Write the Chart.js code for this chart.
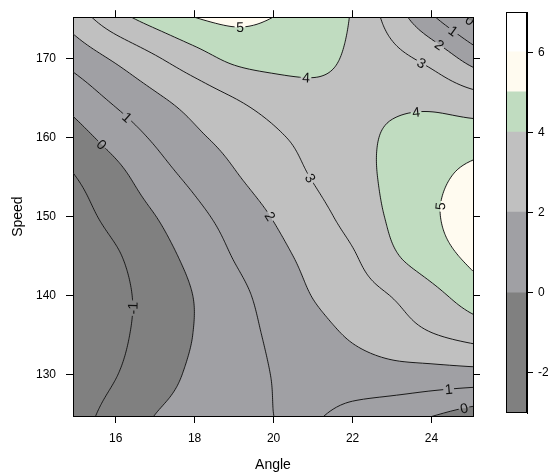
<!DOCTYPE html>
<html>
<head>
<meta charset="utf-8">
<script src="https://cdn.jsdelivr.net/npm/chart.js@4.4.0/dist/chart.umd.min.js"></script>
<style>
  body { margin: 0; background: #fff; }
  #wrap { position: relative; width: 548px; height: 476px; }
  #main { position: absolute; left: 0; top: 0; }
  #key { position: absolute; left: 500px; top: 0; }
</style>
</head>
<body>
<div id="wrap">
  <canvas id="main" width="548" height="476"></canvas>
  <canvas id="key" width="48" height="476"></canvas>
</div>
<script>
var angles = [15, 16, 17, 18, 19, 20, 21, 22, 23, 24, 25];
var speeds = [125, 130, 135, 140, 145, 150, 155, 160, 165, 170, 175];
// surface values, one row per speed (first row = 125)
var z = [
  [-1.3, -0.7, 0.0, 0.33, 0.67, 1.0, 1.08, 0.74, 0.41, 0.08, -0.4],
  [-1.45, -1.03, -0.4, 0.17, 0.61, 1.03, 1.35, 1.5, 1.62, 1.6, 1.62],
  [-1.65, -1.2, -0.6, 0.03, 0.61, 1.16, 1.64, 2.11, 2.52, 2.93, 3.3],
  [-1.7, -1.25, -0.62, 0.03, 0.7, 1.38, 2.03, 2.54, 3.03, 3.7, 4.45],
  [-1.6, -1.1, -0.4, 0.3, 1.05, 1.7, 2.3, 2.9, 3.85, 4.55, 5.2],
  [-1.35, -0.7, -0.02, 0.72, 1.4, 2.05, 2.65, 3.35, 4.15, 4.85, 5.5],
  [-1.0, -0.3, 0.55, 1.25, 1.9, 2.5, 3.05, 3.65, 4.2, 4.75, 5.25],
  [-0.35, 0.4, 1.14, 1.81, 2.36, 2.85, 3.3, 3.74, 4.12, 4.45, 4.5],
  [0.45, 1.2, 1.85, 2.45, 3.0, 3.42, 3.72, 3.8, 3.8, 3.7, 3.35],
  [1.4, 2.15, 2.89, 3.6, 4.2, 4.35, 4.25, 3.85, 3.3, 2.69, 1.65],
  [2.5, 3.6, 4.37, 4.95, 5.2, 4.97, 4.55, 3.92, 2.6, 1.2, -0.1]
];
var levels = [-1, 0, 1, 2, 3, 4, 5];
var keyBreaks = [-3, 0, 2, 4, 5, 6, 7];
var keyColors = ['#808080', '#a0a0a4', '#c0c0c0', '#c0dcc0', '#fffbf0', '#ffffff'];
var angleTicks = [16, 18, 20, 22, 24];
var speedTicks = [130, 140, 150, 160, 170];
var keyTicks = [-2, 0, 2, 4, 6];
// where the contour labels sit: [angle, speed, level]
var labelSpots = [
  [19.13, 174.7, 5], [20.82, 168.5, 4], [23.62, 163.5, 4],
  [23.77, 169.5, 3], [24.25, 172.2, 2], [24.6, 173.7, 1], [24.95, 174.7, 0],
  [21.02, 155.2, 3], [24.15, 151.3, 5], [20.09, 150.6, 2],
  [16.28, 162.6, 1], [15.67, 159.3, 0], [16.55, 138.35, -1],
  [24.42, 128.6, 1], [24.8, 126.5, 0]
];

Chart.defaults.font.family = "'Liberation Sans', Arial, sans-serif";
Chart.defaults.font.size = 12;
Chart.defaults.color = '#000';

function zAt(i, j) {
  var ni = angles.length - 1, nj = speeds.length - 1;
  if (i < 0) return 2 * zAt(0, j) - zAt(1, j);
  if (i > ni) return 2 * zAt(ni, j) - zAt(ni - 1, j);
  if (j < 0) return 2 * zAt(i, 0) - zAt(i, 1);
  if (j > nj) return 2 * zAt(i, nj) - zAt(i, nj - 1);
  return z[j][i];
}

function cr(p0, p1, p2, p3, t) {
  return 0.5 * (2 * p1 + (p2 - p0) * t + (2 * p0 - 5 * p1 + 4 * p2 - p3) * t * t +
    (3 * p1 - p0 - 3 * p2 + p3) * t * t * t);
}

function surf(a, s) {
  var gx = (a - angles[0]) / (angles[1] - angles[0]);
  var gy = (s - speeds[0]) / (speeds[1] - speeds[0]);
  var i = Math.min(Math.max(Math.floor(gx), 0), angles.length - 2);
  var j = Math.min(Math.max(Math.floor(gy), 0), speeds.length - 2);
  var tx = gx - i, ty = gy - j;
  var r = [];
  for (var k = -1; k <= 2; k++) {
    r.push(cr(zAt(i - 1, j + k), zAt(i, j + k), zAt(i + 1, j + k), zAt(i + 2, j + k), tx));
  }
  return cr(r[0], r[1], r[2], r[3], ty);
}

function hexToRgb(h) {
  return [parseInt(h.substr(1, 2), 16), parseInt(h.substr(3, 2), 16), parseInt(h.substr(5, 2), 16)];
}

function bandOf(v) {
  for (var k = 0; k < keyColors.length - 1; k++) {
    if (v < keyBreaks[k + 1]) return k;
  }
  return keyColors.length - 1;
}

function segmentsFor(g, level, x0, y0, step) {
  var out = [];
  for (var j = 0; j < g.length - 1; j++) {
    for (var i = 0; i < g[j].length - 1; i++) {
      var a = g[j][i], b = g[j][i + 1], c = g[j + 1][i + 1], d = g[j + 1][i];
      var X = x0 + i * step, Y = y0 + j * step;
      var pts = [];
      if ((a >= level) !== (b >= level)) pts.push([X + step * (level - a) / (b - a), Y]);
      if ((b >= level) !== (c >= level)) pts.push([X + step, Y + step * (level - b) / (c - b)]);
      if ((d >= level) !== (c >= level)) pts.push([X + step * (level - d) / (c - d), Y + step]);
      if ((a >= level) !== (d >= level)) pts.push([X, Y + step * (level - a) / (d - a)]);
      if (pts.length === 2) {
        out.push([pts[0], pts[1]]);
      } else if (pts.length === 4) {
        var mid = (a + b + c + d) / 4;
        if ((mid >= level) === (a >= level)) {
          out.push([pts[0], pts[1]]); out.push([pts[2], pts[3]]);
        } else {
          out.push([pts[0], pts[3]]); out.push([pts[1], pts[2]]);
        }
      }
    }
  }
  return out;
}

var labelFont = "14px 'Liberation Sans', Arial, sans-serif";

var contourPlot = {
  id: 'contourPlot',
  beforeDraw: function(chart) {
    var area = chart.chartArea, xs = chart.scales.x, ys = chart.scales.y;
    var w = Math.round(area.right - area.left), h = Math.round(area.bottom - area.top);
    var off = document.createElement('canvas');
    off.width = w; off.height = h;
    var octx = off.getContext('2d');
    var img = octx.createImageData(w, h);
    var rgb = keyColors.map(hexToRgb);
    for (var py = 0; py < h; py++) {
      var s = ys.getValueForPixel(area.top + py + 0.5);
      for (var px = 0; px < w; px++) {
        var a = xs.getValueForPixel(area.left + px + 0.5);
        var c = rgb[bandOf(surf(a, s))];
        var o = (py * w + px) * 4;
        img.data[o] = c[0]; img.data[o + 1] = c[1]; img.data[o + 2] = c[2]; img.data[o + 3] = 255;
      }
    }
    octx.putImageData(img, 0, 0);
    chart.ctx.drawImage(off, area.left, area.top);
  },
  afterDatasetsDraw: function(chart) {
    var ctx = chart.ctx, area = chart.chartArea, xs = chart.scales.x, ys = chart.scales.y;
    var step = 2;
    var w = area.right - area.left, h = area.bottom - area.top;
    var nx = Math.ceil(w / step) + 1, ny = Math.ceil(h / step) + 1;
    var g = [];
    for (var j = 0; j < ny; j++) {
      var s = ys.getValueForPixel(area.top + j * step);
      var row = [];
      for (var i = 0; i < nx; i++) row.push(surf(xs.getValueForPixel(area.left + i * step), s));
      g.push(row);
    }
    var segs = {};
    levels.forEach(function(l) { segs[l] = segmentsFor(g, l, area.left, area.top, step); });

    ctx.save();
    ctx.font = labelFont;
    var labels = labelSpots.map(function(sp) {
      var px = xs.getPixelForValue(sp[0]), py = ys.getPixelForValue(sp[1]);
      var best = null, bd = Infinity;
      segs[sp[2]].forEach(function(sg) {
        var mx = (sg[0][0] + sg[1][0]) / 2, my = (sg[0][1] + sg[1][1]) / 2;
        var d = (mx - px) * (mx - px) + (my - py) * (my - py);
        if (d < bd) { bd = d; best = sg; }
      });
      var ang = 0, lx = px, ly = py;
      if (best) {
        ang = Math.atan2(best[1][1] - best[0][1], best[1][0] - best[0][0]);
        if (ang > Math.PI / 2) ang -= Math.PI;
        if (ang <= -Math.PI / 2) ang += Math.PI;
        lx = (best[0][0] + best[1][0]) / 2; ly = (best[0][1] + best[1][1]) / 2;
      }
      var text = String(sp[2]);
      return { x: lx, y: ly, ang: ang, text: text, w: ctx.measureText(text).width };
    });

    // lines, with a gap where each label sits
    ctx.beginPath();
    ctx.rect(area.left, area.top, w, h);
    labels.forEach(function(lb) {
      var hw = lb.w / 2 + 1.5, hh = 7;
      var co = Math.cos(lb.ang), si = Math.sin(lb.ang);
      var pts = [[-hw, -hh], [hw, -hh], [hw, hh], [-hw, hh]];
      pts.forEach(function(p, k) {
        var X = lb.x + p[0] * co - p[1] * si, Y = lb.y + p[0] * si + p[1] * co;
        if (k === 0) ctx.moveTo(X, Y); else ctx.lineTo(X, Y);
      });
      ctx.closePath();
    });
    ctx.clip('evenodd');
    ctx.strokeStyle = '#1a1a1a';
    ctx.lineWidth = 1;
    ctx.beginPath();
    levels.forEach(function(l) {
      segs[l].forEach(function(sg) {
        ctx.moveTo(sg[0][0], sg[0][1]);
        ctx.lineTo(sg[1][0], sg[1][1]);
      });
    });
    ctx.stroke();
    ctx.restore();

    ctx.save();
    ctx.beginPath();
    ctx.rect(area.left, area.top, w, h);
    ctx.clip();
    ctx.font = labelFont;
    ctx.fillStyle = '#111';
    ctx.textAlign = 'center';
    ctx.textBaseline = 'middle';
    labels.forEach(function(lb) {
      ctx.save();
      ctx.translate(lb.x, lb.y);
      ctx.rotate(lb.ang);
      ctx.fillText(lb.text, 0, 1);
      ctx.restore();
    });
    ctx.restore();
  }
};

function axisBase(pos, min, max, tickList) {
  return {
    type: 'linear', position: pos, min: min, max: max,
    afterBuildTicks: function(s) { s.ticks = tickList.map(function(v) { return { value: v }; }); },
    grid: { drawOnChartArea: false, drawTicks: true, tickLength: 7, color: '#000' },
    border: { display: true, color: '#000', width: 1 },
    ticks: { color: '#000' }
  };
}

var xAxis = axisBase('bottom', 14.92, 25.05, angleTicks);
xAxis.afterFit = function(s) { s.height = 60; };
xAxis.ticks.padding = 8;
xAxis.title = { display: true, text: 'Angle', color: '#000', font: { size: 14 }, padding: { top: 2, bottom: 2 } };

var xTop = axisBase('top', 14.92, 25.05, angleTicks);
xTop.afterFit = function(s) { s.height = 11; };
xTop.ticks.display = false;

var yAxis = axisBase('left', 124.8, 175.2, speedTicks);
yAxis.afterFit = function(s) { s.width = 73; };
yAxis.ticks.padding = 10;
yAxis.title = { display: true, text: 'Speed', color: '#000', font: { size: 14 }, padding: { top: 10, bottom: 10 } };

var yRight = axisBase('right', 124.8, 175.2, speedTicks);
yRight.afterFit = function(s) { s.width = 75; };
yRight.ticks.display = false;

new Chart(document.getElementById('main'), {
  type: 'scatter',
  data: { datasets: [{ data: [], pointRadius: 0 }] },
  options: {
    responsive: false,
    animation: false,
    layout: { padding: 0 },
    plugins: { legend: { display: false }, tooltip: { enabled: false } },
    scales: { x: xAxis, x2: xTop, y: yAxis, y2: yRight }
  },
  plugins: [contourPlot]
});

var keyFrame = {
  id: 'keyFrame',
  afterDatasetsDraw: function(chart) {
    var a = chart.chartArea, ctx = chart.ctx;
    ctx.save();
    ctx.strokeStyle = '#000';
    ctx.lineWidth = 1;
    ctx.strokeRect(Math.round(a.left) + 0.5, Math.round(a.top) + 0.5,
      Math.round(a.right - a.left) - 1, Math.round(a.bottom - a.top) - 1);
    ctx.restore();
  }
};

var keyAxis = axisBase('right', -3, 7, keyTicks);
keyAxis.stacked = false;
keyAxis.grid.tickLength = 6;
keyAxis.ticks.padding = 5;
keyAxis.afterFit = function(s) { s.width = 21; };

new Chart(document.getElementById('key'), {
  type: 'bar',
  data: {
    labels: [''],
    datasets: keyColors.map(function(c, k) {
      return {
        data: [[keyBreaks[k], keyBreaks[k + 1]]],
        backgroundColor: c, borderWidth: 0, inflateAmount: 0.8,
        categoryPercentage: 1, barPercentage: 1
      };
    })
  },
  options: {
    responsive: false,
    animation: false,
    layout: { padding: { left: 6, top: 11, bottom: 63, right: 0 } },
    plugins: { legend: { display: false }, tooltip: { enabled: false } },
    scales: {
      x: { display: false, stacked: true },
      y: keyAxis
    }
  },
  plugins: [keyFrame]
});
</script>
</body>
</html>
